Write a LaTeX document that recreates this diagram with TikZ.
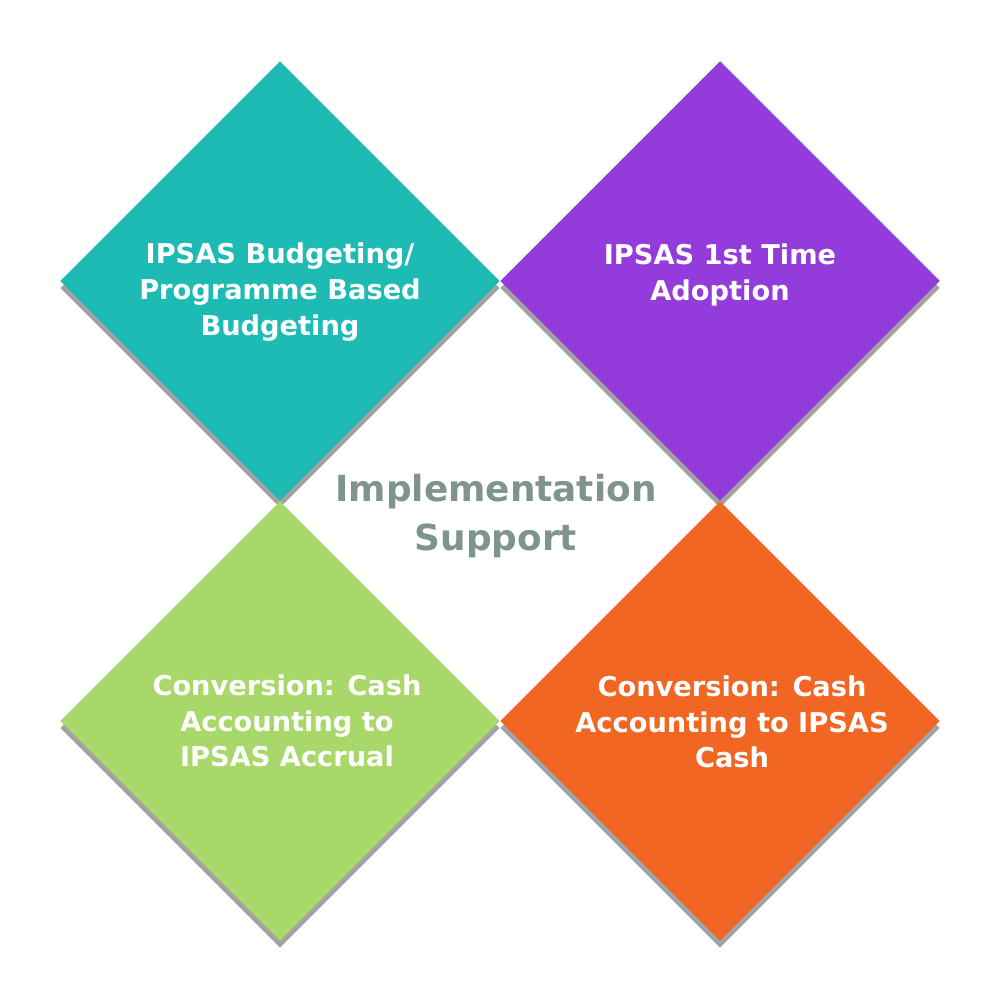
\documentclass[tikz,border=0pt]{standalone}
\usepackage{fontspec}
\setmainfont{DejaVu Sans}
\usetikzlibrary{shapes.geometric}
\usetikzlibrary{shadows}
\usetikzlibrary{positioning}
\definecolor{tealtile}{HTML}{1EBBB4}
\definecolor{purpletile}{HTML}{933BDB}
\definecolor{greentile}{HTML}{A9D86A}
\definecolor{orangetile}{HTML}{F26624}
\definecolor{centretext}{HTML}{7F948E}

\begin{document}
\begin{tikzpicture}[
			tile/.style={diamond,minimum width=4.4cm,minimum height=4.4cm,inner sep=0pt,draw=none,
				general shadow={fill=black!36,shadow yshift=-0.07cm}},
			tiletext/.style={text=white,font=\bfseries\fontsize{7.75}{10.2}\selectfont,align=center}]
			\useasboundingbox (0,0) rectangle (10,10);
			
			% four tiles
			\node[tile,fill=tealtile] (budget) at (2.80,7.19) {};
			\node[tile,fill=purpletile] (adopt) at (7.20,7.19) {};
			\node[tile,fill=greentile] (accrual) at (2.80,2.79) {};
			\node[tile,fill=orangetile] (cash) at (7.20,2.79) {};
			
			% labels
			\node[tiletext] (budgettext) at (2.80,7.08) {IPSAS Budgeting/\\Programme Based\\Budgeting};
			\node[tiletext] (adopttext) at (7.20,7.25) {IPSAS 1st Time\\Adoption};
			\node[tiletext] (accrualtext) at (2.87,2.79) {Conversion: Cash\\Accounting to\\IPSAS Accrual};
			\node[tiletext] (cashtext) at (7.32,2.78) {Conversion: Cash\\Accounting to IPSAS\\Cash};
			\node[text=centretext,font=\bfseries\fontsize{10.2}{14}\selectfont,align=center] (support) at (4.96,4.84) {Implementation\\Support};
		\end{tikzpicture}
\end{document}
